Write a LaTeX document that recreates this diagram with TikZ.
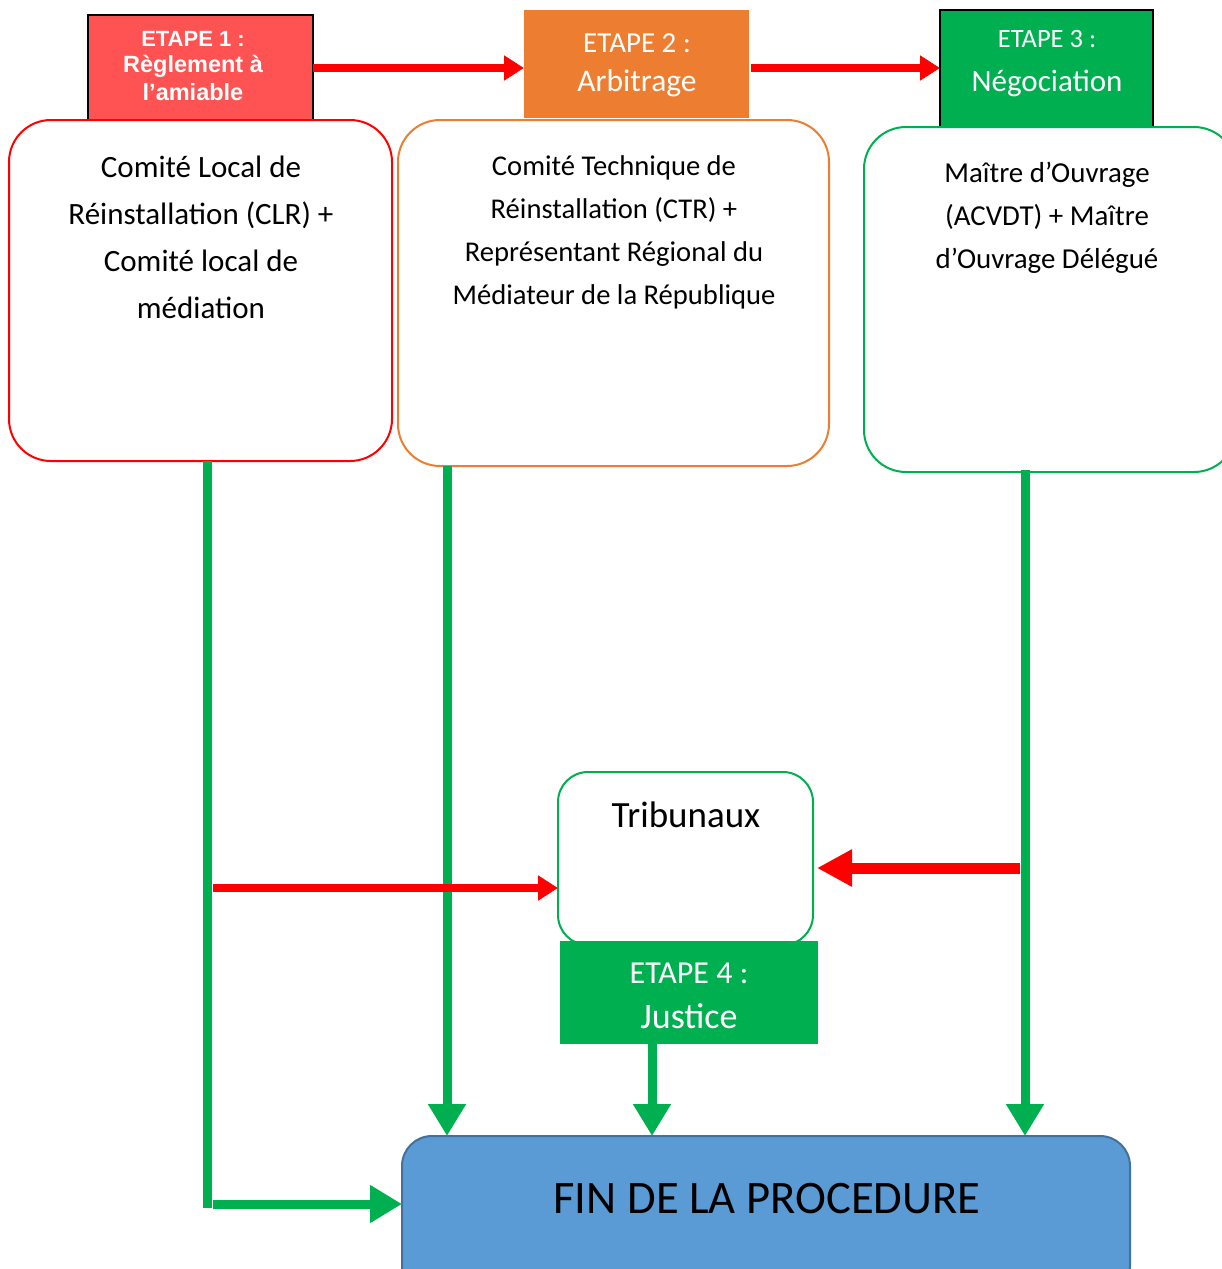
\documentclass[tikz,border=0pt]{standalone}
\usepackage{fontspec}
\setmainfont{Carlito}
\newfontfamily\arialfont{Liberation Sans}
\usetikzlibrary{arrows.meta}
\definecolor{cred}{HTML}{FF0000}
\definecolor{csalmon}{HTML}{FF5252}
\definecolor{corange}{HTML}{ED7D31}
\definecolor{cgreen}{HTML}{00B050}
\definecolor{cblue}{HTML}{5B9BD5}
\definecolor{cbluedark}{HTML}{41719C}
\begin{document}
\begin{tikzpicture}[x=1pt,y=-1pt,
  box/.style={rectangle,inner sep=0,outer sep=0,anchor=north west},
  rbox/.style={box,draw,fill=white,line width=2pt,rounded corners=42pt},
  txt/.style={inner sep=0,outer sep=0,align=center},
  redarrow/.style={draw=cred,line width=7.5pt,-{Triangle[length=20pt,width=24pt]}},
  greenarrow/.style={draw=cgreen,line width=9pt,-{Triangle[length=32pt,width=36pt]}},
  greenline/.style={draw=cgreen,line width=9pt},
]
\clip (0,0) rectangle (1222,1269);
\fill[white] (0,0) rectangle (1222,1269);

% headers
\node[box,fill=csalmon,draw=black,line width=1.5pt,minimum width=225pt,minimum height=105pt] (h1) at (88,15) {};
\node[box,fill=corange,minimum width=225pt,minimum height=108pt] (h2) at (524,10) {};
\node[box,fill=cgreen,draw=black,line width=1.5pt,minimum width=213pt,minimum height=117pt] (h3) at (940,10) {};

\node[txt,anchor=base,text=white,font=\arialfont\bfseries\fontsize{22}{27}\selectfont] (h1a) at (193,46) {ETAPE 1 :};
\node[txt,anchor=north,text=white,font=\arialfont\bfseries\fontsize{23.5}{28}\selectfont] (h1t) at (193,55) {Règlement à\\l’amiable};
\node[txt,anchor=base,text=white,font=\fontsize{29}{34}\selectfont] (h2a) at (637,52) {ETAPE 2 :};
\node[txt,anchor=base,text=white,font=\fontsize{31.5}{36}\selectfont] (h2b) at (637,91) {Arbitrage};
\node[txt,anchor=base,text=white,font=\fontsize{26.5}{30}\selectfont] (h3a) at (1047,47) {ETAPE 3 :};
\node[txt,anchor=base,text=white,font=\fontsize{31}{36}\selectfont] (h3b) at (1047,91) {Négociation};

% rounded boxes
\node[rbox,draw=cred,minimum width=383pt,minimum height=341pt] (b1) at (9,120) {};
\node[rbox,draw=corange,minimum width=431pt,minimum height=346pt] (b2) at (398,120) {};
\node[rbox,draw=cgreen,minimum width=372pt,minimum height=345pt] (b3) at (864,127) {};

\node[txt,anchor=north,font=\fontsize{31}{47}\selectfont] (b1t) at (201,156) {Comité Local de\\Réinstallation (CLR) +\\Comité local de\\médiation};
\node[txt,anchor=north,font=\fontsize{28.6}{43}\selectfont] (b2t) at (614,156) {Comité Technique de\\Réinstallation (CTR) +\\Représentant Régional du\\Médiateur de la République};
\node[txt,anchor=north,font=\fontsize{28.9}{43}\selectfont] (b3t) at (1047,162) {Maître d’Ouvrage\\(ACVDT) + Maître\\d’Ouvrage Délégué};

% tribunaux and etape 4
\node[rbox,draw=cgreen,line width=2pt,rounded corners=30pt,minimum width=255pt,minimum height=173pt] (trib) at (558,772) {};
\node[txt,anchor=base,font=\fontsize{37}{42}\selectfont] (tribt) at (686,827) {Tribunaux};
\node[box,fill=cgreen,minimum width=258pt,minimum height=103pt] (h4) at (560,941) {};
\node[txt,anchor=base,text=white,font=\fontsize{32}{36}\selectfont] (h4a) at (689,983) {ETAPE 4 :};
\node[txt,anchor=base,text=white,font=\fontsize{36}{40}\selectfont] (h4b) at (689,1028) {Justice};

% fin
\node[box,fill=cblue,draw=cbluedark,line width=2pt,rounded corners=30pt,minimum width=728pt,minimum height=160pt] (fin) at (402,1136) {};
\node[txt,font=\fontsize{46.6}{50}\selectfont] (fint) at (767,1199) {FIN DE LA PROCEDURE};

% coordinates
\coordinate (g1top) at (207,461);
\coordinate (g1bot) at (207,1208);
\coordinate (g1h) at (213,1204);
\coordinate (r1s) at (213,888);
\coordinate (r2s) at (1020,868);

% red top arrows
\draw[redarrow] (h1.east |- 0,68) -- (h2.west |- 0,68);
\draw[redarrow] (h2.east |- 0,68) ++(2,0) -- (h3.west |- 0,68);

% green verticals
\draw[greenline] (g1top) -- (g1bot);
\draw[greenarrow] (g1h) -- (fin.west |- g1h);
\draw[greenarrow] (447,466) -- (fin.north -| 447,0);
\draw[greenarrow] (h4.south -| 652,0) -- (fin.north -| 652,0);
\draw[greenarrow] (1025,470) -- (fin.north -| 1025,0);

% red middle arrows
\draw[redarrow] (r1s) -- (trib.west |- r1s);
\draw[draw=cred,line width=11pt,-{Triangle[length=35pt,width=35pt]}] (r2s) -- ([xshift=4pt]trib.east |- r2s);
\end{tikzpicture}
\end{document}
